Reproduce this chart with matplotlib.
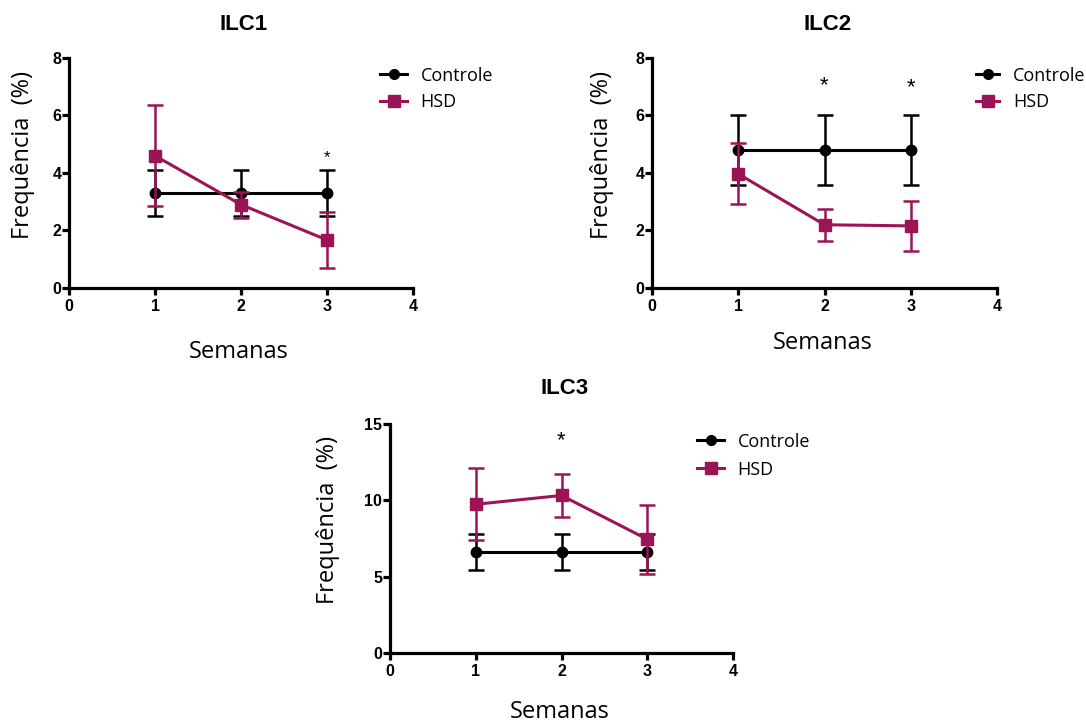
import matplotlib
matplotlib.use("Agg")
import matplotlib.pyplot as plt
from matplotlib.lines import Line2D

# ---- data ----
weeks = [1, 2, 3]
titles = ["ILC1", "ILC2", "ILC3"]

ilc1_ctrl = [3.3, 3.3, 3.3]
ilc1_ctrl_err = [0.8, 0.8, 0.8]
ilc1_hsd = [4.6, 2.9, 1.67]
ilc1_hsd_err = [1.76, 0.45, 0.97]

ilc2_ctrl = [4.8, 4.8, 4.8]
ilc2_ctrl_err = [1.22, 1.22, 1.22]
ilc2_hsd = [3.97, 2.2, 2.16]
ilc2_hsd_err = [1.06, 0.56, 0.87]

ilc3_ctrl = [6.63, 6.63, 6.63]
ilc3_ctrl_err = [1.17, 1.17, 1.17]
ilc3_hsd = [9.74, 10.32, 7.45]
ilc3_hsd_err = [2.36, 1.4, 2.27]

# significance marks: (week, y)
ilc1_sig = [(3, 4.57)]
ilc2_sig = [(2, 7.1), (3, 7.05)]
ilc3_sig = [(2, 14.05)]

xticks = [0, 1, 2, 3, 4]
ilc12_yticks = [0, 2, 4, 6, 8]
ilc3_yticks = [0, 5, 10, 15]

ctrl_label = "Controle"
hsd_label = "HSD"
xlabel = "Semanas"
ylabel = "Frequência  (%)"

# ---- style ----
W, H = 1086, 722
CTRL_C = "#000000"
HSD_C = "#9B1556"
TXT_FONT = "Open Sans"
TICK_FONT = "Liberation Sans"

fig = plt.figure(figsize=(W / 100, H / 100), dpi=100)


def axes_px(l, t, r, b):
    return fig.add_axes([l / W, 1 - b / H, (r - l) / W, (b - t) / H])


panels = [
    dict(box=(69, 58, 413, 288), ctrl=ilc1_ctrl, ce=ilc1_ctrl_err, hsd=ilc1_hsd, he=ilc1_hsd_err,
         yt=ilc12_yticks, sig=ilc1_sig, sigfs=12, leg=(0.904, 0.962), hl=1.5, ls=0.45,
         ylx=23, xly=352, ty=24),
    dict(box=(652, 58, 997, 288), ctrl=ilc2_ctrl, ce=ilc2_ctrl_err, hsd=ilc2_hsd, he=ilc2_hsd_err,
         yt=ilc12_yticks, sig=ilc2_sig, sigfs=16, leg=(0.939, 0.962), hl=1.3, ls=0.45,
         ylx=602, xly=343, ty=24),
    dict(box=(390, 424, 733, 653), ctrl=ilc3_ctrl, ce=ilc3_ctrl_err, hsd=ilc3_hsd, he=ilc3_hsd_err,
         yt=ilc3_yticks, sig=ilc3_sig, sigfs=16, leg=(0.895, 0.962), hl=1.5, ls=0.55,
         ylx=328, xly=712, ty=388),
]

for title, p in zip(titles, panels):
    l, t, r, b = p["box"]
    ax = axes_px(l, t, r, b)
    ax.errorbar(weeks, p["ctrl"], yerr=p["ce"], color=CTRL_C, lw=2.2, marker="o", ms=7.5,
                capsize=5.5, capthick=1.8, elinewidth=1.8, zorder=3)
    ax.errorbar(weeks, p["hsd"], yerr=p["he"], color=HSD_C, lw=2.2, marker="s", ms=8.5,
                capsize=5.5, capthick=1.8, elinewidth=1.8, zorder=4)
    ax.set_xlim(xticks[0], xticks[-1])
    ax.set_ylim(p["yt"][0], p["yt"][-1])
    ax.set_xticks(xticks)
    ax.set_yticks(p["yt"])
    for s in ["top", "right"]:
        ax.spines[s].set_visible(False)
    for s in ["left", "bottom"]:
        ax.spines[s].set_linewidth(2.3)
        ax.spines[s].set_capstyle("projecting")
    ax.tick_params(direction="out", length=5, width=2.3)
    ax.tick_params(axis="x", pad=3)
    ax.tick_params(axis="y", pad=0.5)
    for lab in ax.get_xticklabels() + ax.get_yticklabels():
        lab.set_fontfamily(TICK_FONT)
        lab.set_fontweight("bold")
        lab.set_fontsize(11.5)
    ax.patch.set_alpha(0)
    for sx, sy in p["sig"]:
        ax.annotate("*", (sx, sy), xytext=(0, -0.35 * p["sigfs"]), textcoords="offset points",
                    ha="center", va="baseline", fontsize=p["sigfs"], family=TICK_FONT)
    handles = [
        Line2D([], [], color=CTRL_C, lw=2.2, marker="o", ms=7),
        Line2D([], [], color=HSD_C, lw=2.2, marker="s", ms=8),
    ]
    ax.legend(handles, [ctrl_label, hsd_label], loc="upper left", bbox_to_anchor=p["leg"],
              frameon=False, borderpad=0, borderaxespad=0, handlelength=p["hl"],
              handletextpad=0.75, labelspacing=p["ls"],
              prop=dict(family=TXT_FONT, size=13))
    cx = (l + r) / 2
    fig.text((cx + 3) / W, 1 - p["ty"] / H, title, ha="center", va="center",
             fontsize=16, fontweight="bold", family=TICK_FONT)
    fig.text(p["ylx"] / W, 1 - ((t + b) / 2 - 18) / H, ylabel, rotation=90, ha="center", va="center",
             fontsize=17, family=TXT_FONT)
    fig.text((cx - 2) / W, 1 - p["xly"] / H, xlabel, ha="center", va="center", fontsize=17,
             family=TXT_FONT)

fig.savefig("out.png", dpi=100)
